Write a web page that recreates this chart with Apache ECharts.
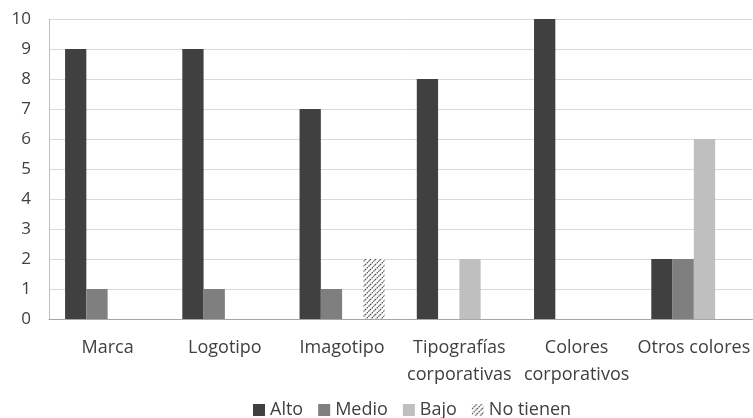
<!DOCTYPE html>
<html><head><meta charset="utf-8">
<script src="https://cdn.jsdelivr.net/npm/echarts@6/dist/echarts.min.js"></script>
<style>html,body{margin:0;padding:0;background:#fff}#c{width:753px;height:418px}</style>
</head><body><div id="c"></div>
<script>
const categories = ['Marca','Logotipo','Imagotipo','Tipografías\ncorporativas','Colores\ncorporativos','Otros colores'];
const seriesNames = ['Alto','Medio','Bajo','No tienen'];
const alto = [9,9,7,8,10,2];
const medio = [1,1,1,0,0,2];
const bajo = [0,0,0,2,0,6];
const noTienen = [0,0,2,0,0,0];
const yTicks = [0,1,2,3,4,5,6,7,8,9,10];

function hatch(){
  const s = 5;
  const c = document.createElement('canvas');
  c.width = s; c.height = s;
  const g = c.getContext('2d');
  g.fillStyle = '#fff'; g.fillRect(0,0,s,s);
  g.strokeStyle = '#4a4a4a'; g.lineWidth = 1.1;
  g.setLineDash([1.6,0.8]);
  g.beginPath();
  g.moveTo(0,s); g.lineTo(s,0);
  g.moveTo(-s/2,s/2); g.lineTo(s/2,-s/2);
  g.moveTo(s/2,s*1.5); g.lineTo(s*1.5,s/2);
  g.stroke();
  return {image: c, repeat: 'repeat'};
}
const colors = ['#404040','#7f7f7f','#bfbfbf', hatch()];
const data = [alto, medio, bajo, noTienen];
const font = 'Open Sans, Noto Sans, sans-serif';

const chart = echarts.init(document.getElementById('c'), null, {renderer:'canvas'});
chart.setOption({
  animation: false,
  textStyle: {fontFamily: font},
  grid: {left: 49, top: 19, width: 706, height: 300, containLabel: false},
  legend: {
    top: 401, left: 253, itemWidth: 12, itemHeight: 12, itemGap: 15, padding: 0,
    textStyle: {fontSize: 18, color: '#404040', fontFamily: font},
    data: seriesNames.map((n,i)=>({name:n, icon:'rect', itemStyle:{color: colors[i]}}))
  },
  xAxis: {
    type: 'category', data: categories,
    axisLine: {lineStyle: {color: '#a6a6a6', width: 1}},
    axisTick: {show: false},
    axisLabel: {fontSize: 18, color: '#404040', margin: 15, lineHeight: 27, interval: 0}
  },
  yAxis: {
    type: 'value', min: 0, max: 10, interval: 1,
    axisLine: {show: true, lineStyle: {color: '#bfbfbf'}},
    axisTick: {show: false},
    splitLine: {lineStyle: {color: '#d9d9d9', width: 1}},
    axisLabel: {fontSize: 17, color: '#404040', margin: 18}
  },
  series: seriesNames.map((n,i)=>({
    name: n, type: 'bar', data: data[i],
    barGap: '0%', barCategoryGap: '27.4%',
    itemStyle: {color: colors[i]}
  }))
});
</script></body></html>
